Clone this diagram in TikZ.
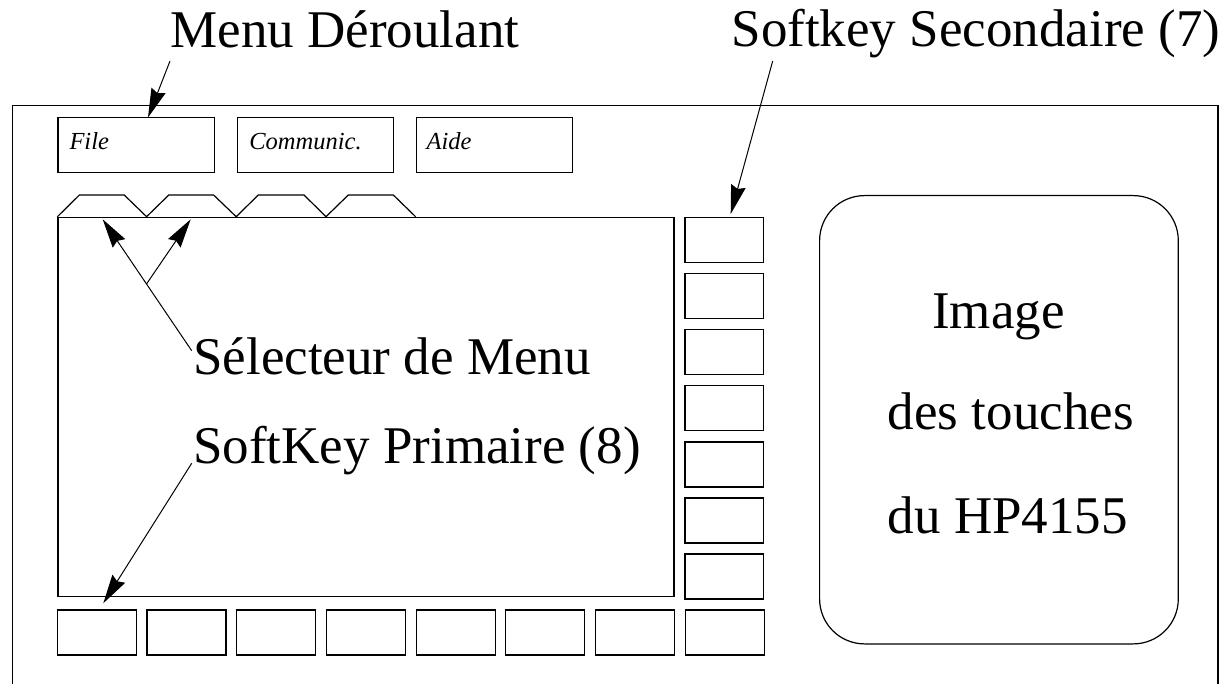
\documentclass[tikz,border=0pt]{standalone}
\usepackage{fontspec}
\setmainfont{Liberation Serif}
\usetikzlibrary{arrows.meta}
\begin{document}
\begin{tikzpicture}[x=1pt,y=-1pt,
  line width=1.2pt,
  keybox/.style={draw, rectangle, inner sep=0pt, minimum width=79pt, minimum height=45pt, anchor=north west},
  menubox/.style={draw, rectangle, inner sep=0pt, minimum width=156.5pt, minimum height=55.6pt, anchor=north west},
  menutext/.style={font=\fontsize{24.5}{28}\selectfont\itshape, inner sep=0pt, anchor=base west},
  bigtext/.style={font=\fontsize{53}{60}\selectfont, inner sep=0pt, anchor=base west},
  arr/.style={-{Stealth[length=29pt,width=15pt,inset=3pt]}, line width=1pt}]
\useasboundingbox (0,0) rectangle (1229,684);
\fill[white] (0,0) rectangle (1229,684);
% outer frame (open at the bottom)
\draw (12.5,684) -- (12.5,105.5) -- (1218,105.5) -- (1218,684);
% menu boxes
\node[menubox] (file) at (57.4,116.7) {};
\node[menubox] (comm) at (236.5,116.7) {};
\node[menubox] (aide) at (415.6,116.7) {};
\node[menutext] (filet) at (68.9,150) {File};
\node[menutext] (commt) at (248.8,150) {Communic.};
\node[menutext] (aidet) at (426,150) {Aide};
% tabs
\draw (57.4,216.7) -- (79.4,195) -- (124.2,195) -- (146.6,216.7) -- (168.8,195) -- (213.6,195) -- (236.2,216.7) -- (258.3,195) -- (304,195) -- (326,216.7) -- (348.3,195) -- (393.3,195) -- (415.6,216.7);
% screen
\node[draw, rectangle, inner sep=0pt, minimum width=615.9pt, minimum height=379pt, anchor=north west] (screen) at (57.4,216.7) {};
% secondary softkeys
\foreach \k in {0,...,6} \node[keybox, minimum width=78.4pt] (s\k) at (684.3,217.3+56*\k) {};
% primary softkeys
\foreach \k in {0,...,7} \node[keybox] (p\k) at (56.7+89.7*\k,609.3) {};
% keys image
\node[draw, rectangle, rounded corners=45pt, inner sep=0pt, minimum width=358.7pt, minimum height=448.3pt, anchor=north west] (img) at (819,195) {};
\node[bigtext] (im1) at (931.7,329) {Image};
\node[bigtext] (im2) at (887.3,430) {des touches};
\node[bigtext] (im3) at (887.3,533) {du HP4155};
% labels
\node[bigtext] (lmenu) at (170,48) {Menu Déroulant};
\node[bigtext] (lsec) at (731,47) {Softkey Secondaire (7)};
\node[bigtext] (lsel) at (192.7,375) {Sélecteur de Menu};
\node[bigtext] (lprim) at (192.7,463.3) {SoftKey Primaire (8)};
% arrows
\coordinate (a1s) at (170,61);
\coordinate (a1e) at (148,117.5);
\draw[arr] (a1s) -- (a1e);
\coordinate (a2s) at (772.7,61);
\coordinate (a2e) at (730.7,214);
\draw[arr] (a2s) -- (a2e);
\coordinate (a3s) at (191.7,350.7);
\coordinate (a3e) at (102.7,219.3);
\coordinate (a3j) at (146.5,284);
\coordinate (a3f) at (190.7,219.3);
\draw[arr] (a3s) -- (a3e);
\draw[arr] (a3j) -- (a3f);
\coordinate (a4s) at (191.7,463.3);
\coordinate (a4e) at (103.3,603.3);
\draw[arr] (a4s) -- (a4e);
\end{tikzpicture}
\end{document}
